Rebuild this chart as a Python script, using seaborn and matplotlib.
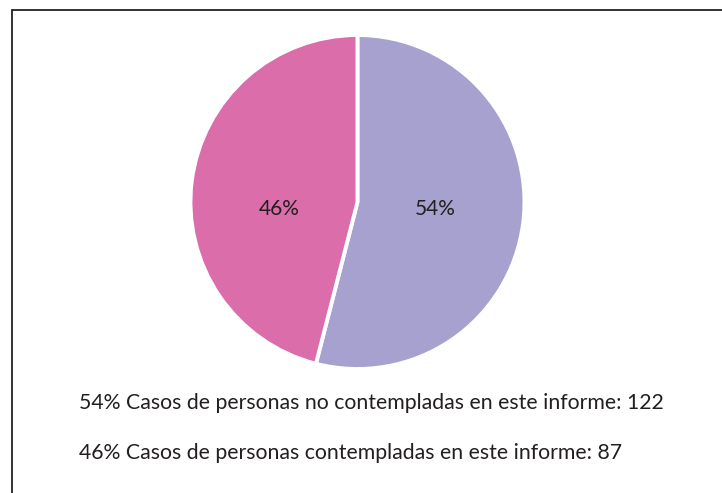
import matplotlib
matplotlib.use("Agg")
import matplotlib.pyplot as plt
import seaborn as sns
from matplotlib.lines import Line2D

# datos del gráfico
categorias = ["Casos de personas no contempladas en este informe",
              "Casos de personas contempladas en este informe"]
porcentajes = [54, 46]
casos = [122, 87]
colores = ["#A7A1CF", "#DA6DAA"]

sns.set_theme(style="white")
plt.rcParams["font.family"] = ["Lato", "DejaVu Sans"]
texto_color = "#231F20"

fig = plt.figure(figsize=(7.22, 4.93), dpi=100)
ax = fig.add_axes([0.2638, 0.2515, 0.4626, 0.6775])

wedges, texts, autotexts = ax.pie(
    porcentajes, colors=colores, startangle=90, counterclock=False,
    autopct="%d%%", pctdistance=0.47,
    wedgeprops=dict(edgecolor="white", linewidth=2.8),
    textprops=dict(color=texto_color, fontsize=15),
)
for t in autotexts:
    t.set_y(-0.04)
ax.set_xlim(-1, 1)
ax.set_ylim(-1, 1)
ax.set_aspect("equal")

# leyenda como texto
for i, (p, cat, n) in enumerate(zip(porcentajes, categorias, casos)):
    fig.text(0.109, 1 - (403 + 50 * i) / 493, f"{p}% {cat}: {n}",
             fontsize=15.3, color=texto_color, va="center", ha="left")

# marco (solo izquierda y arriba)
fig.add_artist(Line2D([12 / 722, 12 / 722], [0, 1 - 10 / 493], color="#222222", lw=1.3))
fig.add_artist(Line2D([12 / 722, 1], [1 - 10 / 493, 1 - 10 / 493], color="#222222", lw=1.3))

fig.savefig("out.png", dpi=100)
